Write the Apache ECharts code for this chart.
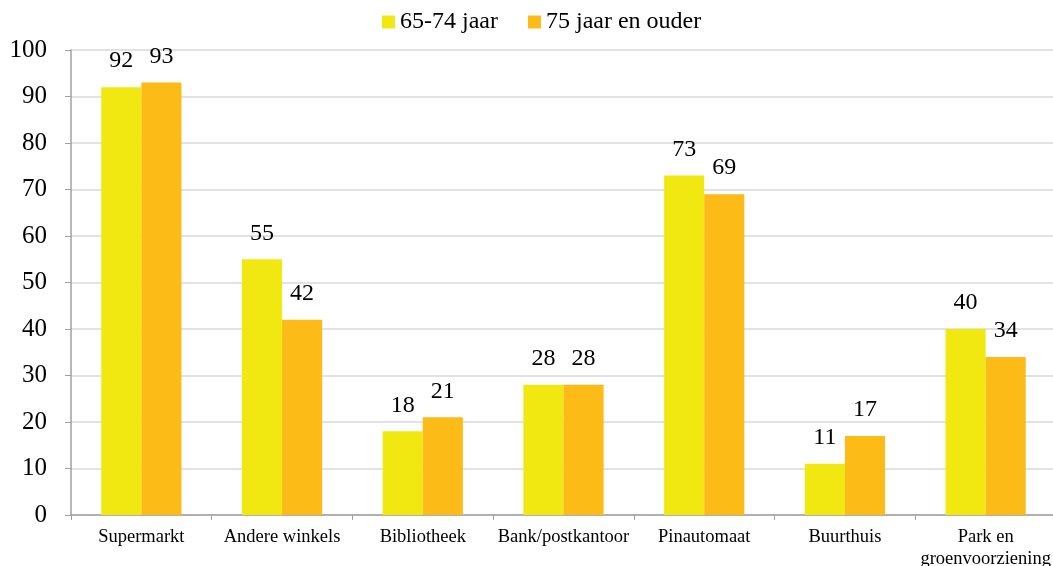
<!DOCTYPE html>
<html>
<head>
<meta charset="utf-8">
<script src="https://cdn.jsdelivr.net/npm/echarts@6/dist/echarts.min.js"></script>
<style>
  html, body { margin: 0; padding: 0; background: #fff; }
  #chart { width: 1053px; height: 566px; }
</style>
</head>
<body>
<div id="chart"></div>
<script>
// Voorzieningen in de buurt, per leeftijdsgroep (%)
const categories = ['Supermarkt', 'Andere winkels', 'Bibliotheek', 'Bank/postkantoor', 'Pinautomaat', 'Buurthuis', 'Park en\ngroenvoorziening'];
const seriesNames = ['65-74 jaar', '75 jaar en ouder'];
const values6574 = [92, 55, 18, 28, 73, 11, 40];
const values75plus = [93, 42, 21, 28, 69, 17, 34];

const serif = '"Liberation Serif", "DejaVu Serif", serif';
const colors = ['#f2e811', '#fcbb17'];

const chart = echarts.init(document.getElementById('chart'));

function barSeries(name, data, color) {
  return {
    name: name,
    type: 'bar',
    data: data,
    barGap: '0%',
    barCategoryGap: '43%',
    itemStyle: { color: color },
    label: {
      show: true,
      position: 'top',
      distance: 14,
      color: '#000',
      fontFamily: serif,
      fontSize: 24
    }
  };
}

chart.setOption({
  animation: false,
  color: colors,
  legend: {
    top: 5,
    left: 377,
    itemWidth: 13,
    itemHeight: 13,
    itemGap: 30,
    icon: 'rect',
    textStyle: { fontFamily: serif, fontSize: 24, color: '#000' },
    data: seriesNames
  },
  grid: {
    left: 71, right: -3, top: 50, bottom: 51,
    containLabel: false,
    outerBoundsMode: 'none'
  },
  xAxis: {
    type: 'category',
    data: categories,
    axisLine: { lineStyle: { color: '#a0a0a0', width: 1.5 } },
    axisTick: { show: true, length: 5, lineStyle: { color: '#a0a0a0' } },
    axisLabel: {
      interval: 0,
      margin: 11,
      color: '#000',
      fontFamily: serif,
      fontSize: 18.5,
      lineHeight: 22
    }
  },
  yAxis: {
    type: 'value',
    min: 0,
    max: 100,
    interval: 10,
    axisLine: { show: true, lineStyle: { color: '#a0a0a0', width: 1.5 } },
    axisTick: { show: true, length: 6, lineStyle: { color: '#a0a0a0' } },
    splitLine: { lineStyle: { color: '#d9d9d9', width: 1.5 } },
    axisLabel: {
      margin: 24,
      color: '#000',
      fontFamily: serif,
      fontSize: 25
    }
  },
  series: [
    barSeries(seriesNames[0], values6574, colors[0]),
    barSeries(seriesNames[1], values75plus, colors[1])
  ]
});
</script>
</body>
</html>
